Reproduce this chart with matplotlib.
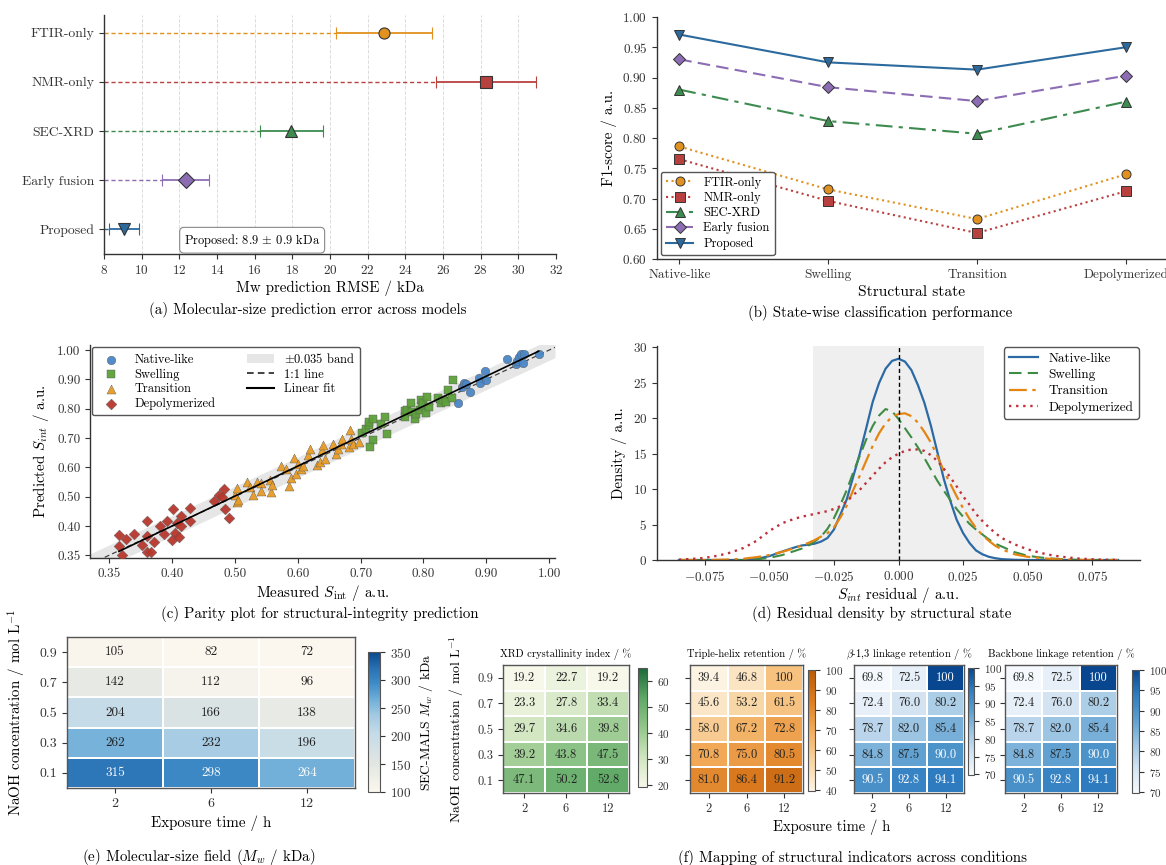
import numpy as np
import matplotlib.pyplot as plt
from matplotlib.colors import LinearSegmentedColormap
from matplotlib.patches import Patch
from matplotlib.lines import Line2D

plt.rcParams['font.family'] = ['cmr10', 'DejaVu Serif']
plt.rcParams['mathtext.fontset'] = 'cm'
plt.rcParams['axes.formatter.use_mathtext'] = True
plt.rcParams['axes.unicode_minus'] = True
plt.rcParams['axes.linewidth'] = 1.0
plt.rcParams['axes.edgecolor'] = '#333333'
plt.rcParams['xtick.color'] = '#333333'
plt.rcParams['ytick.color'] = '#333333'
plt.rcParams['legend.edgecolor'] = '#555555'
plt.rcParams['legend.framealpha'] = 1.0

# ---- (a) RMSE per model
MODELS = ['FTIR-only', 'NMR-only', 'SEC-XRD', 'Early fusion', 'Proposed']
RMSE = [22.85, 28.3, 17.95, 12.33, 9.07]
RMSE_ERR = [2.55, 2.65, 1.68, 1.24, 0.78]

# ---- (b) F1 per structural state
STATES = ['Native-like', 'Swelling', 'Transition', 'Depolymerized']
F1_FTIR = [0.786, 0.715, 0.666, 0.740]
F1_NMR = [0.765, 0.696, 0.643, 0.712]
F1_SEC = [0.880, 0.828, 0.807, 0.860]
F1_EARLY = [0.930, 0.884, 0.861, 0.903]
F1_PROP = [0.971, 0.925, 0.913, 0.950]

# ---- (c) parity data (measured, predicted)
NAT_MEAS = [0.855, 0.861, 0.864, 0.867, 0.874, 0.889, 0.890, 0.897, 0.900, 0.932,
            0.947, 0.948, 0.951, 0.955, 0.958, 0.960, 0.983]
NAT_PRED = [0.820, 0.875, 0.888, 0.884, 0.857, 0.906, 0.886, 0.929, 0.897, 0.968,
            0.952, 0.963, 0.977, 0.988, 0.956, 0.986, 0.986]
SWE_MEAS = [0.703, 0.709, 0.713, 0.714, 0.719, 0.720, 0.715, 0.733, 0.739, 0.742,
            0.770, 0.770, 0.773, 0.780, 0.782, 0.787, 0.788, 0.795, 0.796, 0.798,
            0.800, 0.804, 0.805, 0.809, 0.823, 0.828, 0.831, 0.835, 0.839, 0.846, 0.847]
SWE_PRED = [0.718, 0.732, 0.744, 0.755, 0.766, 0.693, 0.670, 0.749, 0.770, 0.715,
            0.793, 0.772, 0.797, 0.818, 0.789, 0.764, 0.781, 0.795, 0.829, 0.809,
            0.820, 0.786, 0.840, 0.806, 0.835, 0.818, 0.831, 0.823, 0.863, 0.837, 0.897]
TRA_MEAS = [0.500, 0.504, 0.504, 0.506, 0.519, 0.524, 0.529, 0.536, 0.541, 0.541,
            0.556, 0.557, 0.559, 0.573, 0.582, 0.586, 0.590, 0.595, 0.598, 0.601,
            0.606, 0.609, 0.616, 0.619, 0.630, 0.635, 0.638, 0.640, 0.643, 0.656,
            0.661, 0.664, 0.669, 0.671, 0.682, 0.683, 0.685, 0.688, 0.698]
TRA_PRED = [0.505, 0.528, 0.482, 0.490, 0.550, 0.533, 0.505, 0.550, 0.547, 0.520,
            0.558, 0.516, 0.539, 0.604, 0.596, 0.536, 0.562, 0.633, 0.579, 0.613,
            0.596, 0.604, 0.641, 0.664, 0.607, 0.618, 0.658, 0.675, 0.630, 0.681,
            0.647, 0.664, 0.681, 0.698, 0.670, 0.727, 0.698, 0.681, 0.687]
DEP_MEAS = [0.316, 0.316, 0.327, 0.321, 0.340, 0.352, 0.360, 0.367, 0.361, 0.361,
            0.371, 0.382, 0.388, 0.393, 0.400, 0.402, 0.405, 0.409, 0.411, 0.414,
            0.415, 0.429, 0.429, 0.467, 0.475, 0.479, 0.483, 0.485, 0.491]
DEP_PRED = [0.368, 0.331, 0.357, 0.300, 0.372, 0.334, 0.310, 0.310, 0.365, 0.416,
            0.344, 0.399, 0.373, 0.416, 0.352, 0.458, 0.377, 0.409, 0.364, 0.433,
            0.401, 0.462, 0.417, 0.484, 0.507, 0.499, 0.526, 0.457, 0.426]
PARITY_XTICKS = [0.30, 0.40, 0.50, 0.60, 0.70, 0.80, 0.90, 1.00]
PARITY_LABELS = ['0.35', '0.40', '0.50', '0.60', '0.70', '0.80', '0.90', '1.00']

# ---- (d) residual density curves
RESID = [-0.085, -0.080, -0.075, -0.070, -0.065, -0.060, -0.055, -0.050, -0.045,
         -0.040, -0.0375, -0.035, -0.0325, -0.030, -0.0275, -0.025, -0.0225, -0.020,
         -0.0175, -0.015, -0.0125, -0.010, -0.0075, -0.005, -0.0025, 0.0, 0.0025,
         0.005, 0.0075, 0.010, 0.0125, 0.015, 0.0175, 0.020, 0.0225, 0.025, 0.0275,
         0.030, 0.0325, 0.035, 0.0375, 0.040, 0.045, 0.050, 0.055, 0.060, 0.065,
         0.070, 0.075, 0.080, 0.085]
DENS_NAT = [0, 0, 0, 0, 0, 0, 0.15, 0.55, 1.2,
            1.8, 2.05, 2.15, 2.3, 2.6, 3.1, 4.3, 6.4, 8.6,
            11.8, 15.0, 18.6, 22.3, 25.0, 27.0, 28.1, 28.4, 28.0,
            26.8, 24.7, 22.2, 19.0, 15.3, 11.5, 8.4, 5.7, 3.8, 2.4,
            1.35, 0.8, 0.45, 0.25, 0.12, 0.03, 0, 0, 0, 0,
            0, 0, 0, 0]
DENS_SWE = [0, 0, 0, 0, 0, 0, 0.08, 0.3, 0.7,
            1.3, 1.6, 2.0, 2.6, 3.3, 4.4, 5.9, 7.8, 9.9,
            12.4, 14.7, 17.0, 18.9, 20.4, 21.3, 21.0, 19.9, 18.6,
            17.3, 15.9, 14.4, 12.8, 11.2, 9.8, 8.5, 7.2, 6.1, 5.1,
            4.3, 3.6, 2.9, 2.3, 1.9, 1.1, 0.6, 0.35, 0.2, 0.08,
            0.02, 0, 0, 0]
DENS_TRA = [0, 0, 0, 0.02, 0.08, 0.18, 0.4, 0.7, 1.15,
            1.7, 2.05, 2.4, 2.8, 3.3, 3.8, 4.6, 6.0, 7.7,
            9.9, 11.9, 14.0, 16.1, 17.9, 19.3, 20.2, 20.6, 20.7,
            20.3, 19.4, 18.1, 16.6, 14.7, 12.6, 10.8, 9.0, 7.3, 5.8,
            4.5, 3.5, 2.7, 2.0, 1.5, 0.8, 0.45, 0.28, 0.12, 0.05,
            0.01, 0, 0, 0]
DENS_DEP = [0.05, 0.15, 0.3, 0.6, 1.05, 1.7, 2.7, 4.1, 5.2,
            5.85, 6.1, 6.3, 6.5, 6.7, 6.9, 7.2, 7.6, 8.3,
            9.2, 9.9, 10.9, 11.9, 12.9, 13.8, 14.5, 15.0, 15.4,
            15.6, 15.6, 15.4, 14.8, 14.0, 12.9, 11.7, 10.4, 9.0, 7.8,
            6.5, 5.5, 4.6, 3.8, 3.1, 2.2, 1.5, 1.0, 0.62, 0.38,
            0.2, 0.1, 0.04, 0.01]

# ---- (e), (f) condition grids: rows NaOH (top->bottom), cols exposure time
TIMES = ['2', '6', '12']
CONC = ['0.9', '0.7', '0.5', '0.3', '0.1']
MW = [[105, 82, 72], [142, 112, 96], [204, 166, 138], [262, 232, 196], [315, 298, 264]]
XRD = [[19.2, 22.7, 19.2], [23.3, 27.8, 33.4], [29.7, 34.6, 39.8], [39.2, 43.8, 47.5], [47.1, 50.2, 52.8]]
HELIX = [[39.4, 46.8, 100], [45.6, 53.2, 61.5], [58.0, 67.2, 72.8], [70.8, 75.0, 80.5], [81.0, 86.4, 91.2]]
BETA13 = [[69.8, 72.5, 100], [72.4, 76.0, 80.2], [78.7, 82.0, 85.4], [84.8, 87.5, 90.0], [90.5, 92.8, 94.1]]
BACKBONE = [[69.8, 72.5, 100], [72.4, 76.0, 80.2], [78.7, 82.0, 85.4], [84.8, 87.5, 90.0], [90.5, 92.8, 94.1]]

W, H = 1166, 865
fig = plt.figure(figsize=(W / 100, H / 100), dpi=100)

TICK = 9.5
LAB = 10.8


def box(l, t, r, b):
    return [l / W, 1 - b / H, (r - l) / W, (b - t) / H]


def caption(x, y, s):
    fig.text(x / W, 1 - y / H, s, ha='center', va='center', fontsize=10.8)


def clean(ax):
    ax.spines['top'].set_visible(False)
    ax.spines['right'].set_visible(False)


COL_A = ['#E0911F', '#B8413F', '#3D8B4F', '#8C6DB4', '#2C6A9E']
MARK_A = ['o', 's', '^', 'D', 'v']

# ================= (a)
ax = fig.add_axes(box(104, 15, 556, 254))
ypos = np.arange(len(MODELS))[::-1]
for y, v, e, c, m in zip(ypos, RMSE, RMSE_ERR, COL_A, MARK_A):
    ax.plot([8, v - e], [y, y], ls=(0, (3, 2)), color=c, lw=1.0)
    ax.errorbar(v, y, xerr=e, fmt=m, color=c, ms=8, mfc=c, mec='#333333', mew=0.8,
                ecolor=c, elinewidth=1.3, capsize=4, capthick=1.2)
ax.set_yticks(ypos, MODELS, fontsize=9.8)
ax.set_xlim(8, 32)
ax.set_xticks(np.arange(8, 33, 2))
ax.set_ylim(-0.5, 4.36)
ax.grid(axis='x', ls='--', color='#dcdcdc', lw=0.7)
ax.set_axisbelow(True)
ax.tick_params(axis='x', labelsize=TICK)
ax.set_xlabel('Mw prediction RMSE / kDa', fontsize=LAB, labelpad=3)
ax.text(12.25, -0.22, r'Proposed: 8.9 $\pm$ 0.9 kDa', fontsize=9, va='center',
        bbox=dict(boxstyle='round,pad=0.35', fc='white', ec='#888888', lw=0.8))
clean(ax)
caption(308, 310, '(a) Molecular-size prediction error across models')

# ================= (b)
ax = fig.add_axes(box(657, 17, 1166, 259))
xs = np.arange(len(STATES))
series_b = [('FTIR-only', F1_FTIR, ':'), ('NMR-only', F1_NMR, ':'),
            ('SEC-XRD', F1_SEC, (0, (8, 3, 2, 3))), ('Early fusion', F1_EARLY, (0, (6, 3))),
            ('Proposed', F1_PROP, '-')]
for (lab, vals, ls), c, m in zip(series_b, COL_A, MARK_A):
    ax.plot(xs, vals, ls=ls, color=c, lw=1.5, marker=m, ms=6.5, mfc=c, mec='#333333',
            mew=0.7, label=lab)
ax.set_xticks(xs, STATES)
ax.set_xlim(-0.15, 3.27)
ax.set_ylim(0.6, 1.0)
ax.set_yticks(np.arange(0.60, 1.001, 0.05))
ax.tick_params(labelsize=TICK)
ax.set_xlabel('Structural state', fontsize=11.2, labelpad=3)
ax.set_ylabel('F1-score / a.u.', fontsize=LAB)
ax.legend(loc='lower left', fontsize=9, handlelength=2.2, borderaxespad=0.3,
          labelspacing=0.25)
clean(ax)
caption(880, 313, '(b) State-wise classification performance')

# ================= (c)
ax = fig.add_axes(box(90, 345, 555, 558))
xlo, xhi = 0.27, 1.009
band_x = np.array([xlo, xhi])
ax.fill_between(band_x, band_x - 0.035, band_x + 0.035, color='#e6e6e6', lw=0, zorder=0)
ax.plot(band_x, band_x, ls=(0, (4, 2.5)), color='#444444', lw=0.9, zorder=1)
all_m = np.array(NAT_MEAS + SWE_MEAS + TRA_MEAS + DEP_MEAS)
all_p = np.array(NAT_PRED + SWE_PRED + TRA_PRED + DEP_PRED)
k, b0 = np.polyfit(all_m, all_p, 1)
fx = np.array([all_m.min(), all_m.max()])
ax.plot(fx, k * fx + b0, color='black', lw=1.2, zorder=4)
groups = [('Native-like', NAT_MEAS, NAT_PRED, '#4A86C5', 'o', 38),
          ('Swelling', SWE_MEAS, SWE_PRED, '#5DA03A', 's', 36),
          ('Transition', TRA_MEAS, TRA_PRED, '#E89B25', '^', 42),
          ('Depolymerized', DEP_MEAS, DEP_PRED, '#B8372D', 'D', 30)]
handles = []
for lab, mx, py, c, m, s in groups:
    handles.append(ax.scatter(mx, py, s=s, marker=m, color=c, edgecolors='#555555',
                              linewidths=0.3, alpha=0.95, zorder=3, label=lab))
handles += [Patch(fc='#e6e6e6', ec='none', label=r'$\pm$0.035 band'),
            Line2D([], [], ls=(0, (4, 2.5)), color='#222222', lw=1.2, label='1:1 line'),
            Line2D([], [], color='black', lw=1.5, label='Linear fit')]
ax.legend(handles=handles, ncol=2, loc='upper left', fontsize=9, columnspacing=2.5,
          handlelength=2.2, borderaxespad=0.15, labelspacing=0.2)
ax.set_xlim(xlo, xhi)
ax.set_ylim(0.291, 1.017)
ax.set_xticks(PARITY_XTICKS, PARITY_LABELS)
ax.set_yticks(PARITY_XTICKS, PARITY_LABELS)
ax.tick_params(labelsize=TICK)
ax.set_xlabel(r'Measured $S_{\mathrm{int}}$ / a.u.', fontsize=LAB, labelpad=2)
ax.set_ylabel(r'Predicted $S_{int}$ / a.u.', fontsize=LAB)
clean(ax)
caption(320, 614, '(c) Parity plot for structural-integrity prediction')

# ================= (d)
ax = fig.add_axes(box(657, 346, 1140, 560))
ax.axvspan(-0.033, 0.033, color='#efefef', lw=0, zorder=0)
ax.plot(RESID, DENS_NAT, color='#2C6AA5', lw=1.6, label='Native-like')
ax.plot(RESID, DENS_SWE, color='#3E8C45', lw=1.5, ls=(0, (6, 3)), label='Swelling')
ax.plot(RESID, DENS_TRA, color='#E58511', lw=1.6, ls=(0, (8, 2.5, 1.5, 2.5)), label='Transition')
ax.plot(RESID, DENS_DEP, color='#C0303A', lw=1.7, ls=(0, (1, 2)), label='Depolymerized')
ax.axvline(0, color='black', ls=(0, (3, 2)), lw=1.0)
ax.set_xlim(-0.0935, 0.0935)
ax.set_ylim(0, 30.2)
ax.set_xticks([-0.075, -0.05, -0.025, 0, 0.025, 0.05, 0.075])
ax.set_yticks(np.arange(0, 31, 5))
ax.tick_params(labelsize=TICK)
ax.set_xlabel(r'$S_{int}$ residual / a.u.', fontsize=LAB, labelpad=1)
ax.set_ylabel('Density / a.u.', fontsize=LAB)
ax.legend(loc='upper right', fontsize=9.5, handlelength=2.2, borderaxespad=0.1,
          labelspacing=0.3)
clean(ax)
caption(882, 614, '(d) Residual density by structural state')


# ================= heatmaps
def heat(ax, cax, vals, cmap, vmin, vmax, white_above, fs, cticks, ylabels=True,
         bad=None):
    arr = np.array(vals, dtype=float)
    data = arr
    if bad is not None:
        cmap = cmap.with_extremes(bad=bad)
        data = np.ma.masked_where(arr >= 100, arr)
    mesh = ax.pcolormesh(data, cmap=cmap, vmin=vmin, vmax=vmax, edgecolors='white',
                         linewidth=1.2)
    ax.set_ylim(len(arr), 0)
    for i in range(arr.shape[0]):
        for j in range(arr.shape[1]):
            v = arr[i, j]
            txt = f'{v:.0f}' if (v >= 100 or float(v).is_integer() and arr.max() > 150) else f'{v:.1f}'
            ax.text(j + 0.5, i + 0.5, txt, ha='center', va='center', fontsize=fs,
                    color='white' if v > white_above else '#222222')
    ax.set_xticks(np.arange(arr.shape[1]) + 0.5, TIMES)
    ax.set_yticks(np.arange(arr.shape[0]) + 0.5, CONC if ylabels else [])
    for sp in ax.spines.values():
        sp.set_color('#555555')
        sp.set_linewidth(1.0)
    cb = fig.colorbar(mesh, cax=cax)
    cb.set_ticks(cticks)
    cb.outline.set_linewidth(0.8)
    cb.outline.set_edgecolor('#555555')
    return cb


cm_e = LinearSegmentedColormap.from_list(
    'e', [(0, '#fbf7ee'), (0.2, '#e2e6e2'), (0.42, '#c4dbe8'), (0.55, '#a2c9e2'),
          (0.655, '#72b0d9'), (0.78, '#3d8bc6'), (0.88, '#2a72b4'), (1.0, '#0b4a8e')])
cm_g = LinearSegmentedColormap.from_list('g', ['#f7f8ea', '#cfe5bf', '#93c68a', '#5ea866', '#1b6a39'])
cm_o = LinearSegmentedColormap.from_list('o', ['#fdf3e3', '#f8d4a0', '#f2ac5c', '#dd7c1e', '#b85a0a'])
cm_b = LinearSegmentedColormap.from_list('b', ['#f5f9fd', '#d4e4f2', '#9dc5e3', '#5c9fd0', '#2f7cc0', '#08468f'])

# (e)
ax = fig.add_axes(box(67, 637, 355, 788))
cax = fig.add_axes(box(368, 652, 380, 792))
cb = heat(ax, cax, MW, cm_e, 100, 350, 262.5, 9.5, [100, 150, 200, 250, 300, 350])
ax.tick_params(labelsize=10)
cb.ax.tick_params(labelsize=9.5)
cb.set_label(r'SEC-MALS $M_w$ / kDa', fontsize=9.8)
ax.set_xlabel('Exposure time / h', fontsize=LAB)
ax.set_ylabel(r'NaOH concentration / mol L$^{-1}$', fontsize=LAB, labelpad=8)
caption(199, 857, r'(e) Molecular-size field ($M_w$ / kDa)')

# (f)
panels_f = [(XRD, cm_g, 19.2, 65, 999, [20, 30, 40, 50, 60], 'XRD crystallinity index / %',
             (503, 629), (638, 668, 647, 787), None),
            (HELIX, cm_o, 39.4, 100, 999, [40, 50, 60, 70, 80, 90, 100], 'Triple-helix retention / %',
             (690, 803), (808, 670, 815, 791), '#f6c27e'),
            (BETA13, cm_b, 69.8, 100, 89.5, [70, 75, 80, 85, 90, 95, 100],
             r'$\beta$-1,3 linkage retention / %', (854, 964), (968, 668, 974, 775), None),
            (BACKBONE, cm_b, 69.8, 100, 89.5, [70, 75, 80, 85, 90, 95, 100],
             'Backbone linkage retention / %', (1005, 1117), (1132, 670, 1139, 793), None)]
for n, (vals, cm, lo, hi, wthr, ticks, title, (l, r), cbx, bad) in enumerate(panels_f):
    ax = fig.add_axes(box(l, 665, r, 793))
    cax = fig.add_axes(box(*cbx))
    cb = heat(ax, cax, vals, cm, lo, hi, wthr, 9, ticks, ylabels=(n == 0), bad=bad)
    ax.tick_params(labelsize=9)
    cb.ax.tick_params(labelsize=8)
    ax.set_title(title, fontsize=7.6, pad=6)
    if n == 0:
        ax.set_ylabel(r'NaOH concentration / mol L$^{-1}$', fontsize=9.8, labelpad=8)
fig.text(832 / W, 1 - 827 / H, 'Exposure time / h', ha='center', va='center', fontsize=10.5)
caption(852, 858, '(f) Mapping of structural indicators across conditions')

fig.savefig('out.png', dpi=100)
